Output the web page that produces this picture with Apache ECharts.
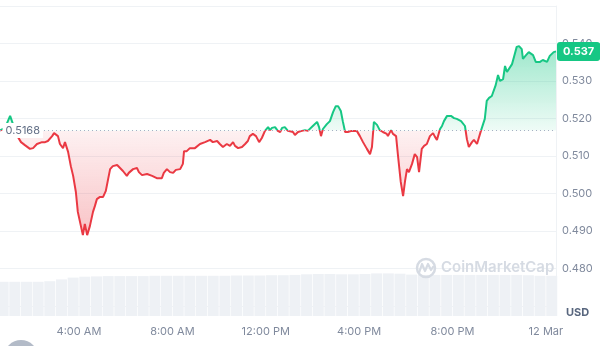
<!DOCTYPE html>
<html>
<head>
<meta charset="utf-8">
<script src="https://cdn.jsdelivr.net/npm/echarts@6/dist/echarts.min.js"></script>
<style>
html,body{margin:0;padding:0;background:#fff;}
#chart{width:600px;height:346px;}
</style>
</head>
<body>
<div id="chart"></div>
<script>
// Time in minutes since 11 Mar 00:00
const priceMinutes = [37,50,63,73,83,91,101,114,122,132,145,153,160,171,176,181,186,191,199,204,209,212,219,225,232,237,245,250,255,261,268,276,281,286,294,302,309,315,320,327,338,343,353,363,368,379,389,394,402,415,428,440,453,458,466,474,482,489,500,507,510,517,525,
538,551,564,577,584,595,602,610,620,628,636,641,649,659,667,674,679,687,695,703,710,718,726,731,736,744,751,757,762,769,777,790,795,803,808,813,821,828,841,852,857,862,867,877,885,893,900,906,913,918,924,931,941,954,962,970,980,
988,993,996,998,1006,1013,1021,1031,1034,1042,1047,1055,1060,1067,1073,1078,1083,1088,1096,1103,1109,1114,1121,1127,1134,1142,1150,1155,1160,1163,1168,1173,1178,1186,1196,1204,1211,1222,1227,1232,1237,1242,1250,1255,1263,1268,1273,1278,1283,1288,1294,1301,1306,1311,1317,1322,1330,1335,1340,1345,1353,1358,1365,1371,1378,1381,1389,1396,1407,1414,1425,1432,1443,1450,1455,1460,1466];
const priceValues = [0.5168,0.5175,0.5207,0.5177,0.5151,0.5137,0.5129,0.5119,0.5121,0.5132,0.5137,0.5137,0.5140,0.5153,0.5161,0.5161,0.5153,0.5132,0.5121,0.5137,0.5132,0.5111,0.5073,0.5047,0.5004,0.4951,0.4913,0.4889,0.4919,0.4889,0.4913,0.4951,0.4967,0.4985,0.4991,0.4991,0.5007,0.5039,0.5065,0.5073,0.5076,0.5071,0.5060,0.5047,0.5055,0.5065,0.5068,0.5057,0.5049,0.5052,0.5047,0.5041,0.5041,0.5055,0.5065,0.5057,0.5055,0.5063,0.5065,0.5079,0.5113,0.5113,0.5121,
0.5121,0.5132,0.5137,0.5143,0.5137,0.5140,0.5132,0.5124,0.5132,0.5127,0.5137,0.5127,0.5121,0.5124,0.5132,0.5140,0.5153,0.5159,0.5153,0.5137,0.5148,0.5167,0.5177,0.5169,0.5175,0.5177,0.5167,0.5164,0.5175,0.5177,0.5167,0.5164,0.5156,0.5164,0.5161,0.5167,0.5169,0.5167,0.5180,0.5191,0.5177,0.5153,0.5172,0.5185,0.5193,0.5217,0.5233,0.5233,0.5220,0.5193,0.5164,0.5164,0.5167,0.5167,0.5153,0.5137,0.5119,
0.5105,0.5124,0.5124,0.5191,0.5183,0.5169,0.5164,0.5159,0.5153,0.5169,0.5159,0.5153,0.5100,0.5031,0.4993,0.5033,0.5065,0.5057,0.5079,0.5105,0.5097,0.5057,0.5119,0.5127,0.5132,0.5153,0.5161,0.5151,0.5143,0.5148,0.5172,0.5180,0.5193,0.5207,0.5207,0.5201,0.5199,0.5193,0.5191,0.5180,0.5145,0.5124,0.5137,0.5143,0.5132,0.5137,0.5167,0.5183,0.5199,0.5247,0.5255,0.5260,0.5265,0.5289,0.5316,0.5300,0.5305,0.5340,0.5324,0.5327,0.5345,0.5364,0.5391,0.5393,0.5385,0.5359,0.5369,0.5377,0.5369,0.5351,0.5351,0.5356,0.5351,0.5367,0.5372,0.5377,0.5379];
const openPrice = 0.5168;
const volumeMinutes = [45,75,105,135,165,195,225,255,285,315,345,375,405,435,465,495,525,555,585,615,645,675,705,735,765,795,825,855,885,915,945,975,1005,1035,1065,1095,1125,1155,1185,1215,1245,1275,1305,1335,1365,1395,1425,1455];
const volumeValues = [57,57,57,57,58,61,64,65.5,66,66.5,66.5,66.5,66.5,67,67,67,67,67,67,67,67.5,67.5,67.5,68,68,68.5,69.5,70,70,69.5,69.5,70,71,71,70.5,69,68.5,68.5,68.5,68.5,68.5,68.5,68.5,68.5,68.5,68,67,67];
const yTicks = [0.48,0.49,0.50,0.51,0.52,0.53,0.54];
const xTickMinutes = [240,480,720,960,1200,1440];

const GREEN = '#16c784', RED = '#ea3943';
const FONT = 'Inter, Roboto, sans-serif';
const tMin = priceMinutes[0], tMax = priceMinutes[priceMinutes.length - 1];
const lastValue = priceValues[priceValues.length - 1];
const vMax = Math.max.apply(null, priceValues), vMin = Math.min.apply(null, priceValues);
const f = (vMax - openPrice) / (vMax - vMin);

function fmtTime(m) {
  if (m % 1440 === 0 && m > 0) return '12 Mar';
  const h = Math.floor(m / 60) % 24;
  const h12 = h % 12 === 0 ? 12 : h % 12;
  return h12 + ':00 ' + (h < 12 ? 'AM' : 'PM');
}

const chart = echarts.init(document.getElementById('chart'), null, {renderer: 'canvas'});
chart.setOption({
  animation: false,
  grid: [
    {left: 0, right: 44, top: 6, height: 300},
    {left: 0, right: 44, top: 256, bottom: 30}
  ],
  xAxis: [
    {type: 'value', gridIndex: 0, min: tMin, max: tMax, show: false},
    {type: 'value', gridIndex: 1, min: tMin, max: tMax,
     axisLine: {show: false}, axisTick: {show: false}, splitLine: {show: false},
     axisLabel: {customValues: xTickMinutes, formatter: fmtTime, color: '#808a9d', fontSize: 11, fontFamily: FONT, margin: 10}}
  ],
  yAxis: [
    {type: 'value', gridIndex: 0, position: 'right', min: 0.47, max: 0.55, interval: 0.01,
     axisLine: {show: true, lineStyle: {color: '#eff2f5'}}, axisTick: {show: false},
     splitLine: {lineStyle: {color: '#eff2f5'}},
     axisLabel: {margin: 6, color: '#808a9d', fontSize: 11, fontFamily: FONT,
       formatter: function (v) { return yTicks.some(t => Math.abs(t - v) < 1e-6) ? v.toFixed(3) : ''; }}},
    {type: 'value', gridIndex: 1, min: 0, max: 100, show: false}
  ],
  visualMap: {
    type: 'piecewise', show: false, seriesIndex: 0, dimension: 1,
    pieces: [{gte: 0, lt: openPrice, color: RED}, {gte: openPrice, lte: 1, color: GREEN}]
  },
  series: [
    {
      type: 'line', xAxisIndex: 0, yAxisIndex: 0, showSymbol: false, symbol: 'none', z: 3,
      lineStyle: {width: 2},
      areaStyle: {origin: openPrice, opacity: 1, color: {type: 'linear', x: 0, y: 0, x2: 0, y2: 1, colorStops: [
        {offset: 0, color: 'rgba(22,199,132,0.42)'},
        {offset: f, color: 'rgba(22,199,132,0.07)'},
        {offset: f, color: 'rgba(234,57,67,0.07)'},
        {offset: 1, color: 'rgba(234,57,67,0.30)'}
      ]}},
      data: priceMinutes.map((m, i) => [m, priceValues[i]]),
      markLine: {
        silent: true, symbol: ['none', 'none'], animation: false, precision: 4,
        data: [
          {yAxis: openPrice,
           lineStyle: {color: '#a6b0c3', type: [1, 3], width: 1},
           label: {show: true, position: 'start', distance: -43, formatter: openPrice.toFixed(4),
                   backgroundColor: '#fff', color: '#616e85', fontSize: 11, fontFamily: FONT, padding: [2, 3]}},
          {yAxis: lastValue,
           lineStyle: {color: 'rgba(0,0,0,0)', width: 1},
           label: {show: true, position: 'end', distance: 1,
                   formatter: (Math.floor(lastValue * 1000) / 1000).toFixed(3),
                   backgroundColor: GREEN, color: '#fff', fontWeight: 'bold', fontSize: 11, fontFamily: FONT,
                   padding: [4, 6, 4, 6], borderRadius: 3}}
        ]
      }
    },
    {
      type: 'bar', xAxisIndex: 1, yAxisIndex: 1, barWidth: 11, z: 1,
      itemStyle: {color: '#eef1f5'}, silent: true,
      data: volumeMinutes.map((m, i) => [m, volumeValues[i]])
    }
  ],
  graphic: [
    {type: 'text', left: 566, top: 307, z: 10, style: {text: 'USD', fill: '#58667e', font: 'bold 11px ' + FONT}},
    {type: 'circle', shape: {cx: 426, cy: 268, r: 9}, z: 10, style: {fill: 'none', stroke: '#d6dbe3', lineWidth: 2.5}},
    {type: 'polyline', shape: {points: [[419, 273], [422, 264], [425, 271], [428, 264], [431, 270], [433, 267]]}, z: 10,
     style: {fill: 'none', stroke: '#d6dbe3', lineWidth: 2.2, lineJoin: 'round', lineCap: 'round'}},
    {type: 'text', left: 441, top: 260, z: 10, style: {text: 'CoinMarketCap', fill: '#d6dbe3', font: '600 15px ' + FONT}},
    {type: 'circle', shape: {cx: 21, cy: 357, r: 17}, z: 10, style: {fill: '#b3bbc8'}}
  ]
});
</script>
</body>
</html>
